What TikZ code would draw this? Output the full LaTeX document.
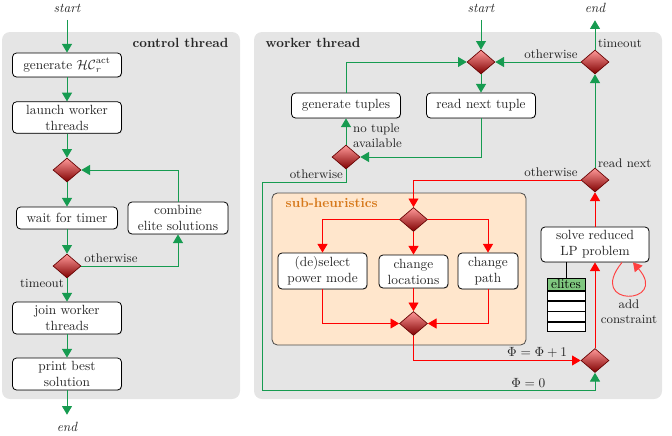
\documentclass[tikz,border=0pt]{standalone}
\usetikzlibrary{shapes.geometric,arrows.meta,shadows,calc}
\definecolor{gline}{RGB}{22,155,80}
\definecolor{panelgray}{RGB}{229,229,229}
\definecolor{subfill}{RGB}{255,230,204}
\definecolor{subtitle}{RGB}{214,120,26}
\definecolor{elitegreen}{RGB}{127,199,127}
\tikzset{
  panelbg/.style={fill=panelgray, rounded corners=6pt},
  subbox/.style={fill=subfill, draw=black!70, rounded corners=4pt, line width=0.6pt},
  procbox/.style={draw=black, fill=white, rounded corners=3pt, align=center, inner sep=1pt,
    line width=0.6pt, text=black!85,
    drop shadow={shadow xshift=0.5pt,shadow yshift=-0.5pt,opacity=0.35}},
  decnode/.style={diamond, draw=red!40!black, top color=red!40, bottom color=red!50!black,
    minimum width=21pt, minimum height=18pt, inner sep=0pt, line width=0.5pt},
  gflow/.style={draw=gline, line width=0.7pt, -{Triangle[width=7.5pt,length=6.5pt]}},
  rflow/.style={draw=red, line width=0.7pt, -{Triangle[width=7.5pt,length=6.5pt]}},
  loopflow/.style={draw=red!75, line width=0.7pt, -{Triangle[width=7.5pt,length=6.5pt]}},
  lbl/.style={font=\fontsize{9.4}{11}\selectfont, inner sep=2pt, text=black!85},
  mathlbl/.style={inner sep=1.5pt, text=black!85},
  termtext/.style={font=\itshape, inner sep=5.5pt, text=black!85},
  elitehdr/.style={draw=black, fill=elitegreen, line width=0.5pt, minimum width=28.5pt,
    minimum height=9pt, inner sep=0pt, text height=6.5pt, text depth=1pt},
  eliterow/.style={draw=black, fill=white, line width=0.5pt, minimum width=28.5pt,
    minimum height=7.2pt, inner sep=0pt, anchor=north},
}
\begin{document}
\begin{tikzpicture}[x=0.75pt,y=-0.75pt]
\useasboundingbox (0,0) rectangle (672,436);
% panels
\fill[panelbg] (2,32) rectangle (240,399);
\fill[panelbg] (254,32) rectangle (662,399);
\node[font=\bfseries, anchor=east, text=black!85] (ctitle) at (233,43) {control thread};
\node[font=\bfseries, anchor=west, text=black!85] (wtitle) at (261,43) {worker thread};
\draw[subbox] (272,193) rectangle (526,345);
\node[font=\bfseries, text=subtitle, anchor=west] (stitle) at (281,203) {sub-heuristics};

% control thread
\node[termtext] (s1) at (67,8) {start};
\node[procbox, minimum width=81.75pt, minimum height=18pt] (b1) at (67,65) {generate $\mathcal{HC}_r^{\mathrm{act}}$};
\node[procbox, minimum width=81.75pt, minimum height=23.6pt] (b2) at (67,117.5) {launch worker\\threads};
\node[decnode] (d1) at (67,170) {};
\node[procbox, minimum width=75.75pt, minimum height=16.5pt] (b3) at (67,218) {wait for timer};
\node[procbox, minimum width=75pt, minimum height=24pt] (b4) at (178,218) {combine\\elite solutions};
\node[decnode] (d2) at (67,266) {};
\node[procbox, minimum width=81.75pt, minimum height=24pt] (b5) at (67,318) {join worker\\threads};
\node[procbox, minimum width=81.75pt, minimum height=24pt] (b6) at (67,374) {print best\\solution};
\node[termtext] (e1) at (67,427) {end};

\draw[gflow] (s1) -- (b1);
\draw[gflow] (b1) -- (b2);
\draw[gflow] (b2) -- (d1);
\draw[gflow] (d1) -- (b3);
\draw[gflow] (b3) -- (d2);
\draw[gflow] (d2) -- node[lbl, left, pos=0.2]{timeout} (b5);
\draw[gflow] (d2.east) -| node[lbl, above right, pos=0]{otherwise} (b4.south);
\draw[gflow] (b4.north) |- (d1.east);
\draw[gflow] (b5) -- (b6);
\draw[gflow] (b6) -- (e1);

% worker thread
\node[termtext] (s2) at (481,8) {start};
\node[termtext] (e2) at (595,8) {end};
\node[decnode] (d3) at (481,62) {};
\node[decnode] (d4) at (595,62) {};
\node[procbox, minimum width=81.75pt, minimum height=18.75pt] (gt) at (346,105.5) {generate tuples};
\node[procbox, minimum width=81.75pt, minimum height=18.75pt] (rt) at (481,105.5) {read next tuple};
\node[decnode] (d5) at (346,157) {};
\node[decnode] (d7) at (595,180) {};
\node[decnode] (d8) at (413.5,219.5) {};
\node[procbox, minimum width=66.75pt, minimum height=27pt] (ps) at (322.5,271) {(de)select\\power mode};
\node[procbox, minimum width=51.75pt, minimum height=24.75pt] (cl) at (413.5,271.5) {change\\locations};
\node[procbox, minimum width=45pt, minimum height=27pt] (cp) at (488,271) {change\\path};
\node[decnode] (d9) at (413.5,323.5) {};
\node[procbox, minimum width=81pt, minimum height=26.25pt] (lp) at (595,244.5) {solve reduced\\LP problem};
\node[decnode] (d6) at (595,360.5) {};

% elites table
\node[elitehdr] (el) at (566,284.5) {elites};
\node[eliterow] (r1) at (el.south) {};
\node[eliterow] (r2) at (r1.south) {};
\node[eliterow] (r3) at (r2.south) {};
\node[eliterow] (r4) at (r3.south) {};
\draw[black, line width=0.6pt] (el.north |- lp.south) -- (el.north);

\draw[gflow] (s2) -- (d3);
\draw[gflow] (d4) -- node[lbl, right, pos=0.2]{timeout} (e2);
\draw[gflow] (d4.west) -- node[lbl, above left, pos=0]{otherwise} (d3.east);
\draw[gflow] (gt.north) |- (d3.west);
\draw[gflow] (d3) -- (rt);
\draw[gflow] (rt.south) |- (d5.east);
\draw[gflow] (d5) -- node[lbl, right, align=left, pos=0.35, xshift=3pt]{no tuple\\available} (gt);
\coordinate (w1) at (262,182);
\coordinate (w2) at (262,390);
\draw[gflow] (d5.south) |- node[lbl, above left, pos=0.5]{otherwise} (w1) -- (w2)
  -| node[mathlbl, above, pos=0.4]{$\Phi = 0$} (d6.south);
\draw[gflow] (d7) -- node[lbl, right, pos=0.05]{read next} (d4);

\draw[rflow] (d7.west) -| node[lbl, above left, pos=0]{otherwise} (d8.north);
\draw[rflow] (d8.west) -| (ps.north);
\draw[rflow] (d8) -- (cl);
\draw[rflow] (d8.east) -| (cp.north);
\draw[rflow] (ps.south) |- (d9.west);
\draw[rflow] (cl) -- (d9);
\draw[rflow] (cp.south) |- (d9.east);
\draw[rflow] (d9.south) |- node[mathlbl, above, pos=0.87]{$\Phi = \Phi + 1$} (d6.west);
\draw[rflow] (d6) -- (lp);
\draw[rflow] (lp) -- (d7);
\draw[loopflow] ($(lp.south)+(27,0)$) .. controls (585,308) and (670,305) .. ($(lp.south)+(38,0)$);
\node[lbl, align=center] (ac) at (629,312) {add\\constraint};
\end{tikzpicture}
\end{document}
